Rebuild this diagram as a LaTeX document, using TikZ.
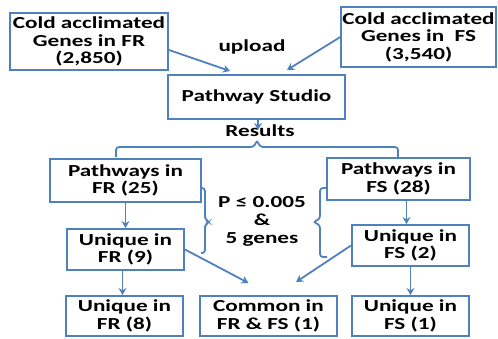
\documentclass[tikz,border=0pt]{standalone}
\usepackage{fontspec}
\newfontfamily\diagfont{Carlito}[FakeStretch=1.38]
\usetikzlibrary{arrows.meta}
\definecolor{boxblue}{RGB}{79,129,189}
\tikzset{
	box/.style={draw=boxblue, line width=2pt, fill=white, align=center, inner sep=1pt,
		font=\diagfont\bfseries\fontsize{16.8}{17.5}\selectfont},
	lbl/.style={align=center, inner sep=0pt, font=\diagfont\bfseries\fontsize{16.8}{18}\selectfont},
	arr/.style={draw=boxblue, line width=1.8pt, -{Stealth[length=7pt,width=8pt]}},
	brc/.style={draw=boxblue, line width=1.8pt, rounded corners=3pt},
}
\begin{document}
\begin{tikzpicture}[x=1pt,y=-1pt]
	\useasboundingbox (0,0) rectangle (498,338);
	% top row
	\node[box, minimum width=158pt, minimum height=57pt] (frgenes) at (89,41.5) {Cold acclimated\\Genes in FR\\(2,850)};
	\node[box, minimum width=153pt, minimum height=60pt] (fsgenes) at (418.5,37) {Cold acclimated\\Genes in \ FS\\(3,540)};
	\node[box, minimum width=177pt, minimum height=44pt] (studio) at (256.5,97) {Pathway Studio};
	\node[lbl] (upload) at (252,47) {upload};
	\node[lbl] (results) at (260,131) {Results};
	
	% pathways
	\node[box, minimum width=151pt, minimum height=43pt] (pwfr) at (125.5,180.5) {Pathways in\\FR (25)};
	\node[box, minimum width=143pt, minimum height=42pt] (pwfs) at (398.5,179) {Pathways in\\FS (28)};
	\node[lbl] (crit) at (262,221) {P ≤ 0.005\\\&\\5 genes};
	
	% unique / common
	\node[box, minimum width=117pt, minimum height=41pt] (unfr9) at (125.5,249.5) {Unique in\\FR (9)};
	\node[box, minimum width=117pt, minimum height=41pt] (unfs2) at (410.5,245.5) {Unique in\\FS (2)};
	\node[box, minimum width=117pt, minimum height=40pt] (unfr8) at (124.5,316) {Unique in\\FR (8)};
	\node[box, minimum width=137pt, minimum height=40pt] (common) at (268.5,316) {Common in\\FR \& FS (1)};
	\node[box, minimum width=117pt, minimum height=40pt] (unfs1) at (410.5,316) {Unique in\\FS (1)};
	
	% braces
	\draw[brc] (116,157) |- (254,147) -- (257,140) -- (260,147) -| (398,157);
	\draw[brc] (201,188) -| (205,219) -- (209,222) -- (205,225) |- (201,253);
	\draw[brc] (327,188) -| (320,219) -- (313,222) -- (320,225) |- (327,257);
	
	\draw[arr] ([yshift=-8.5pt]frgenes.east) -- ([xshift=-26.5pt,yshift=3pt]studio.north);
	\draw[arr] (fsgenes.west) -- ([xshift=30.5pt,yshift=4pt]studio.north);
	\draw[arr] ([xshift=1.5pt]studio.south) -- ([xshift=1.5pt,yshift=-10pt]studio.south);
	\draw[arr] (pwfr) -- (unfr9);
	\draw[arr] ([xshift=-3pt]unfr9.south) -- ([xshift=-2pt]unfr8.north);
	\draw[arr] (unfr9.east) -- ([xshift=-20pt,yshift=12pt]common.north);
	\draw[arr] ([xshift=-4pt]unfs2.north |- pwfs.south) -- ([xshift=-4pt]unfs2.north);
	\draw[arr] (unfs2) -- (unfs1);
	\draw[arr] (unfs2.west) -- ([xshift=27.5pt,yshift=13pt]common.north);
\end{tikzpicture}
\end{document}
